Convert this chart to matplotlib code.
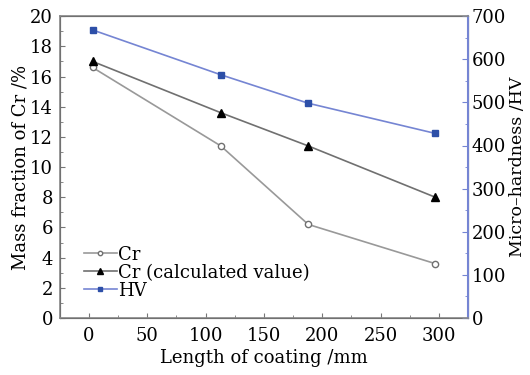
import numpy as np
import matplotlib.pyplot as plt
from matplotlib.ticker import MultipleLocator

plt.rcParams['font.family'] = ['DejaVu Serif']
plt.rcParams['mathtext.fontset'] = 'dejavuserif'

length = [3, 113, 188, 297]
cr = [16.6, 11.4, 6.2, 3.6]
cr_calc = [17.0, 13.6, 11.4, 8.0]
hv = [668, 564, 498, 428]

fig = plt.figure(figsize=(5.3, 3.75), dpi=100)
ax = fig.add_axes([0.113, 0.152, 0.770, 0.805])
ax2 = ax.twinx()

l1, = ax.plot(length, cr, color='#999999', lw=1.2, marker='o', ms=4.5,
              mfc='white', mec='#707070', mew=1.0, label='Cr')
l2, = ax.plot(length, cr_calc, color='#707070', lw=1.2, marker='^', ms=5.5,
              mfc='black', mec='black', label='Cr (calculated value)')
l3, = ax2.plot(length, hv, color='#7585d3', lw=1.2, marker='s', ms=4,
               mfc='#2d4fa8', mec='#2d4fa8', label='HV')

ax.set_xlim(-25, 325)
ax.set_ylim(0, 20)
ax2.set_ylim(0, 700)
ax.xaxis.set_major_locator(MultipleLocator(50))
ax.xaxis.set_minor_locator(MultipleLocator(25))
ax.yaxis.set_major_locator(MultipleLocator(2))
ax.yaxis.set_minor_locator(MultipleLocator(1))
ax2.yaxis.set_major_locator(MultipleLocator(100))
ax2.yaxis.set_minor_locator(MultipleLocator(50))

fs = 13
ax.tick_params(which='both', direction='in', labelsize=fs, color='#777777')
ax.tick_params(which='major', length=3.5)
ax.tick_params(which='minor', length=2)
ax.tick_params(axis='x', pad=6.5)
ax.tick_params(axis='y', pad=5)
ax2.tick_params(which='both', direction='in', labelsize=fs, color='#7585d3', pad=2.5)
ax2.tick_params(which='major', length=4)
ax2.tick_params(which='minor', length=2.5)

for s in ['left', 'bottom', 'top']:
    ax2.spines[s].set_color('#888888')
    ax2.spines[s].set_linewidth(1.2)
ax2.spines['right'].set_color('#7585d3')
ax2.spines['right'].set_linewidth(1.5)

ax.set_xlabel('Length of coating /mm', fontsize=fs, labelpad=3)
ax.set_ylabel('Mass fraction of Cr /%', fontsize=fs, labelpad=0)
ax2.set_ylabel('Micro\u2013hardness /HV', fontsize=12.5, labelpad=2)

ax.legend(handles=[l1, l2, l3], loc='lower left', bbox_to_anchor=(0.033, 0.025),
          frameon=False, fontsize=fs, handlelength=1.8, handletextpad=0.05,
          labelspacing=0.0, borderaxespad=0.2, markerscale=0.7)

fig.savefig('out.png', dpi=100)
